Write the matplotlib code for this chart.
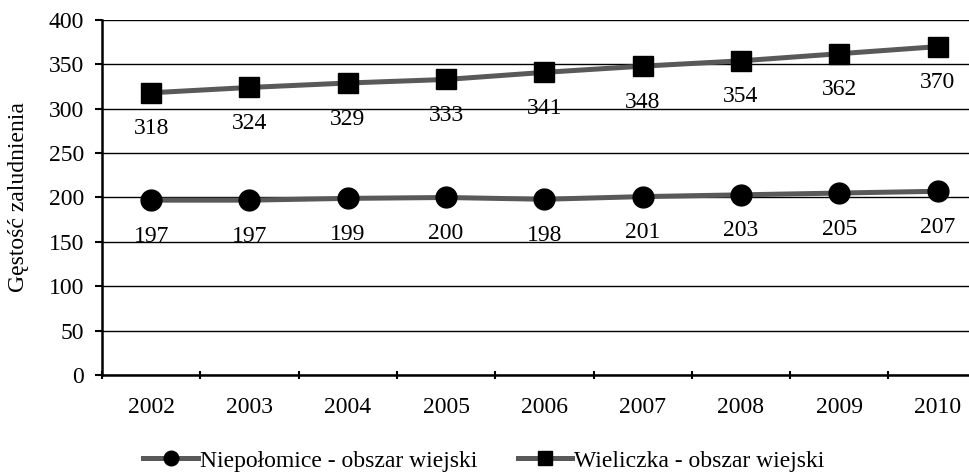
import matplotlib.pyplot as plt
import numpy as np

plt.rcParams['font.family'] = ['Liberation Serif', 'DejaVu Serif']

years = ["2002", "2003", "2004", "2005", "2006", "2007", "2008", "2009", "2010"]
niepolomice = [197, 197, 199, 200, 198, 201, 203, 205, 207]
wieliczka = [318, 324, 329, 333, 341, 348, 354, 362, 370]

fs = 17

fig = plt.figure(figsize=(9.70, 4.74), dpi=100)
# plot area is cut off on the right in the original
ax = fig.add_axes([0.1052, 0.2089, 0.912, 0.7489])

x = np.arange(len(years))
line_col = "#595959"

ax.plot(x, niepolomice, color=line_col, linewidth=3.6, marker="o",
        markersize=15, markerfacecolor="black", markeredgecolor="black",
        label="Niepołomice - obszar wiejski", zorder=3)
ax.plot(x, wieliczka, color=line_col, linewidth=3.6, marker="s",
        markersize=14, markerfacecolor="black", markeredgecolor="black",
        label="Wieliczka - obszar wiejski", zorder=3)

for xi, v in zip(x, niepolomice):
    ax.annotate(str(v), (xi, v), xytext=(0, -26), textcoords="offset points",
                ha="center", va="center", fontsize=fs)
for xi, v in zip(x, wieliczka):
    ax.annotate(str(v), (xi, v), xytext=(0, -26), textcoords="offset points",
                ha="center", va="center", fontsize=fs)

ax.set_xlim(-0.5, len(years) - 0.5)
ax.set_ylim(0, 400)
ax.set_yticks(np.arange(0, 401, 50))
ax.set_xticks(x)
ax.set_xticklabels(years)
ax.set_xticks(np.arange(-0.5, len(years), 1), minor=True)
ax.tick_params(axis="x", which="major", length=0, pad=16, labelsize=fs)
ax.tick_params(axis="x", which="minor", length=6, width=1.5, direction="inout")
ax.tick_params(axis="y", length=5, width=1.5, labelsize=fs, pad=8)

ax.yaxis.grid(True, color="black", linewidth=1.0)
ax.set_axisbelow(True)
for s in ["top", "right"]:
    ax.spines[s].set_visible(False)
ax.spines["left"].set_linewidth(1.8)
ax.spines["bottom"].set_linewidth(1.8)

ax.set_ylabel("Gęstość zaludnienia", fontsize=fs, labelpad=14)

leg = fig.legend(loc="lower center", bbox_to_anchor=(0.499, -0.04), ncol=2,
                 frameon=False, fontsize=fs, handlelength=2.3, handletextpad=0.1,
                 columnspacing=1.7, markerscale=0.7)

fig.savefig("out.png", dpi=100)
